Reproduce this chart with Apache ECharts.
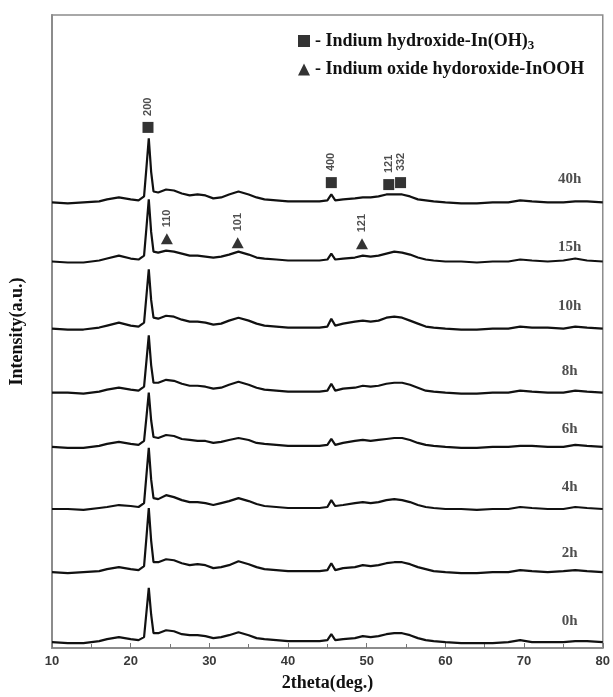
<!DOCTYPE html>
<html>
<head>
<meta charset="utf-8">
<script src="https://cdn.jsdelivr.net/npm/echarts@6/dist/echarts.min.js"></script>
<style>
  html, body { margin: 0; padding: 0; background: #fff; }
  #chart { width: 613px; height: 697px; }
</style>
</head>
<body>
<div id="chart"></div>
<script>
// 2theta sampling points (deg.)
const twoTheta = [10, 12, 14, 16, 17, 18.5, 20, 21, 21.7, 22.0, 22.3, 22.6, 22.9, 23.5, 24.5, 25.5, 26.5, 27.5, 28.5, 29.5,
    30.5, 31.5, 32.5, 33.7, 35, 36, 37, 38.5, 40, 42, 44, 45, 45.5, 46, 47, 48.5, 49.5, 50.5, 51.5, 52.5,
    53.5, 54.5, 55.5, 56.5, 57.5, 58.5, 60, 62, 64, 66, 68, 69.5, 71, 73, 75, 76.5, 78, 80];

// intensity above each pattern's own baseline (a.u.)
const i0h = [0, -1, -1, 1, 3, 5, 3, 2, 5, 30, 55, 28, 9, 9, 12, 11, 8, 7, 7, 6, 4, 5, 7, 10, 7, 4, 3, 2, 1, 1,
    1, 2, 8, 2, 3, 4, 6, 5, 6, 8, 9, 9, 7, 4, 2, 1, 0, -1, -1, -1, 0, 2, 0, 0, 0, 1, 1, 0];
const i2h = [0, -1, 0, 1, 3, 5, 3, 2, 6, 35, 65, 32, 10, 10, 13, 12, 9, 7, 8, 7, 4, 5, 7, 11, 8, 5, 3, 2, 1, 1,
    1, 2, 9, 2, 4, 5, 7, 6, 7, 9, 10, 10, 8, 5, 3, 1, 0, -1, -1, 0, 0, 2, 1, 0, 1, 2, 1, 0];
const i4h = [0, 0, -1, 1, 2, 4, 3, 2, 6, 34, 62, 30, 11, 10, 14, 12, 9, 7, 7, 6, 4, 6, 8, 11, 8, 5, 3, 2, 1, 1,
    1, 2, 9, 3, 4, 6, 7, 6, 7, 9, 10, 9, 7, 4, 2, 1, 0, 0, -1, 0, 0, 2, 1, 0, 0, 2, 1, 0];
const i6h = [0, -1, -1, 1, 3, 5, 3, 2, 6, 30, 55, 27, 10, 9, 12, 11, 8, 7, 6, 6, 4, 5, 7, 9, 7, 4, 3, 2, 1, 1,
    1, 2, 8, 2, 4, 6, 7, 6, 7, 8, 9, 9, 7, 4, 2, 1, 0, -1, -1, 0, 0, 1, 1, 0, 0, 2, 1, 0];
const i8h = [0, 0, -1, 1, 3, 5, 3, 2, 6, 32, 58, 28, 10, 10, 13, 12, 9, 7, 7, 6, 4, 5, 8, 11, 8, 5, 3, 2, 1, 1,
    1, 2, 9, 2, 4, 5, 7, 6, 7, 9, 10, 10, 8, 5, 2, 1, 0, -1, -1, 0, 0, 2, 1, 0, 0, 2, 1, 0];
const i10h = [0, -1, -1, 1, 3, 6, 3, 2, 6, 33, 60, 29, 11, 10, 13, 12, 9, 7, 7, 6, 4, 5, 8, 11, 8, 5, 3, 2, 1, 1,
    1, 2, 10, 3, 5, 7, 8, 7, 8, 11, 12, 11, 8, 5, 2, 1, 0, -1, -1, 0, 0, 2, 1, 1, 0, 2, 1, 0];
const i15h = [0, -1, -1, 1, 3, 6, 3, 2, 6, 34, 63, 30, 10, 9, 11, 10, 8, 6, 6, 5, 4, 5, 7, 10, 7, 4, 3, 2, 1, 1,
    1, 2, 8, 2, 3, 4, 6, 5, 6, 8, 10, 9, 7, 4, 2, 1, 0, 0, -1, 0, 0, 2, 1, 0, 1, 3, 1, 0];
const i40h = [0, -1, 0, 1, 3, 5, 3, 2, 6, 35, 65, 31, 11, 10, 13, 12, 9, 7, 8, 7, 4, 5, 8, 11, 8, 5, 3, 2, 1, 1,
    1, 2, 8, 2, 3, 4, 5, 5, 6, 8, 8, 8, 6, 3, 2, 1, 0, -1, -1, 0, 0, 2, 1, 0, 0, 1, 1, 0];

const sampleNames = ['0h', '2h', '4h', '6h', '8h', '10h', '15h', '40h'];
const patterns = [i0h, i2h, i4h, i6h, i8h, i10h, i15h, i40h];
// vertical offset of each pattern (stacked for clarity)
const offsets = [-14, 57, 121, 184, 239, 304, 372, 432];
// where each sample name sits [2theta, intensity]
const sampleLabelPos = [[75.8, 7], [75.8, 76], [75.8, 143], [75.8, 202], [75.8, 261], [75.8, 327], [75.8, 387], [75.8, 456]];

// reflection markers [2theta, intensity, hkl]
const hydroxidePeaks = [[22.2, 508, '200'], [45.5, 452, '400'], [52.8, 450, '121'], [54.3, 452, '332']];
const oxyhydroxidePeaks = [[24.6, 395, '110'], [33.6, 391, '101'], [49.4, 390, '121']];

const serif = 'Liberation Serif';

const chart = echarts.init(document.getElementById('chart'));

const lineSeries = patterns.map((vals, k) => ({
    name: sampleNames[k],
    type: 'line',
    data: twoTheta.map((x, i) => [x, vals[i] + offsets[k]]),
    symbol: 'none',
    lineStyle: { color: '#111', width: 2.2 },
    silent: true,
    z: 2
}));

const markerLabel = {
    show: true,
    position: 'top',
    distance: 6,
    rotate: 90,
    align: 'left',
    verticalAlign: 'middle',
    formatter: p => p.value[2],
    color: '#222',
    fontSize: 11,
    fontWeight: 'bold',
    fontFamily: 'Liberation Sans'
};

const option = {
    animation: false,
    backgroundColor: '#fff',
    grid: {
        left: 52, right: 6, top: 15, bottom: 40,
        show: true, borderColor: '#8c8c8c', borderWidth: 1.5
    },
    legend: {
        data: [
            { name: 'In(OH)3', icon: 'rect' },
            { name: 'InOOH', icon: 'triangle' }
        ],
        orient: 'vertical',
        left: 293,
        top: 27,
        itemWidth: 12,
        itemHeight: 12,
        itemGap: 8,
        selectedMode: false,
        formatter: name => name === 'In(OH)3'
            ? '{t|- Indium hydroxide-In(OH)}{s|3}'
            : '{t|- Indium oxide hydoroxide-InOOH}',
        textStyle: {
            rich: {
                t: { fontFamily: serif, fontWeight: 'bold', fontSize: 18, color: '#111' },
                s: { fontFamily: serif, fontWeight: 'bold', fontSize: 13, color: '#111', padding: [10, 0, 0, 0] }
            }
        }
    },
    xAxis: {
        type: 'value',
        min: 10,
        max: 80,
        interval: 10,
        name: '2theta(deg.)',
        nameLocation: 'middle',
        nameGap: 26,
        nameTextStyle: { fontFamily: serif, fontWeight: 'bold', fontSize: 18, color: '#111' },
        axisLine: { onZero: false, lineStyle: { color: '#8c8c8c', width: 2 } },
        axisTick: { inside: true, length: 5, lineStyle: { color: '#777' } },
        minorTick: { show: true, splitNumber: 2, length: 4, lineStyle: { color: '#777' } },
        axisLabel: { margin: 7, fontFamily: 'Liberation Sans', fontWeight: 'bold', fontSize: 13, color: '#3a3a3a' },
        splitLine: { show: false }
    },
    yAxis: {
        type: 'value',
        min: -20,
        max: 622,
        name: 'Intensity(a.u.)',
        nameLocation: 'middle',
        nameGap: 26,
        nameTextStyle: { fontFamily: serif, fontWeight: 'bold', fontSize: 18, color: '#111' },
        axisLine: { show: true, onZero: false, lineStyle: { color: '#8c8c8c', width: 2 } },
        axisTick: { show: false },
        axisLabel: { show: false },
        splitLine: { show: false }
    },
    series: lineSeries.concat([
        {
            name: 'In(OH)3',
            type: 'scatter',
            data: hydroxidePeaks,
            symbol: 'rect',
            symbolSize: 11,
            itemStyle: { color: '#000' },
            label: markerLabel,
            z: 3
        },
        {
            name: 'InOOH',
            type: 'scatter',
            data: oxyhydroxidePeaks,
            symbol: 'triangle',
            symbolSize: [12, 11],
            itemStyle: { color: '#000' },
            label: markerLabel,
            z: 3
        },
        {
            name: 'samples',
            type: 'scatter',
            data: sampleLabelPos.map((p, k) => [p[0], p[1], sampleNames[k]]),
            symbolSize: 0,
            silent: true,
            label: {
                show: true,
                position: 'inside',
                formatter: p => p.value[2],
                fontFamily: serif,
                fontWeight: 'bold',
                fontSize: 15,
                color: '#222'
            }
        }
    ])
};

chart.setOption(option);
</script>
</body>
</html>
